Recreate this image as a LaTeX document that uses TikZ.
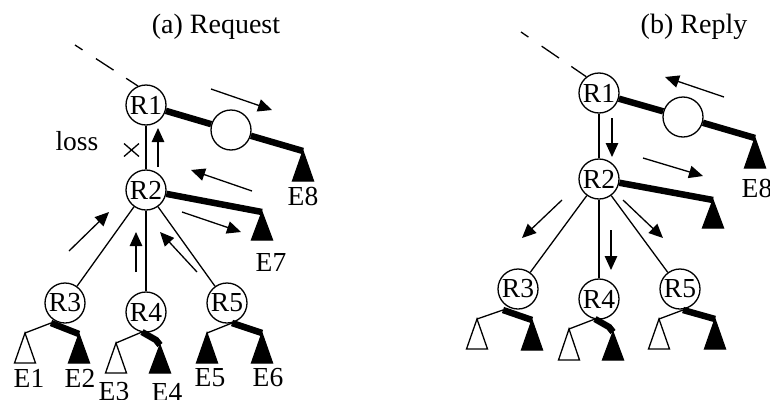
\documentclass[tikz,border=0pt]{standalone}
\usepackage{fontspec}
\setmainfont{Liberation Serif}
\usetikzlibrary{arrows.meta,calc}
\newcommand\leafshape[3][30]{\draw[line width=1.3pt,fill=#3,line join=miter] (#2) -- ++(-10.5,#1) -- ++(21,0) -- cycle;}
\begin{document}
\begin{tikzpicture}[x=1pt,y=-1pt,
  rnode/.style={draw,circle,line width=1.3pt,minimum size=40pt,inner sep=0pt,font=\fontsize{27.5}{27.5}\selectfont},
  emptynode/.style={draw,circle,line width=1.3pt,minimum size=40pt,inner sep=0pt},
  thinln/.style={line width=1.3pt},
  thickln/.style={line width=6.5pt,line join=miter},
  flow/.style={line width=1.3pt,-{Triangle[length=14pt,width=12.5pt]}},
  lbl/.style={font=\fontsize{27.5}{27.5}\selectfont,inner sep=0pt},
  ttl/.style={font=\fontsize{28}{28}\selectfont,inner sep=0pt,anchor=base},
  dashedline/.style={line width=1.3pt,dash pattern=on 9pt off 16pt on 21pt off 15pt on 30pt},
]
\useasboundingbox (0,0) rectangle (770,399);

% ---------------- (a) Request ----------------
\node[ttl] (ta) at (216,33) {(a) Request};
\node[rnode] (a1) at (146,105) {R1};
\node[emptynode] (ac) at (231,130) {};
\coordinate (ad) at (75,45);
\draw[dashedline] (ad) -- (a1.113);
\coordinate (a8) at (303,151);
\draw[thickln] (a1) -- (ac);
\draw[thickln] (ac) -- (a8);
\leafshape{a8}{black}
\node[lbl] (aE8) at (303,196) {E8};
\coordinate (af1s) at (211,89); \coordinate (af1e) at (272,110);
\draw[flow] (af1s) -- (af1e);
\node[lbl] (loss) at (77,141) {loss};
\coordinate (ax) at (131.5,150);
\draw[thinln] ($(ax)+(-7.5,-6.5)$) -- ($(ax)+(7.5,6.5)$);
\draw[thinln] ($(ax)+(-7.5,6.5)$) -- ($(ax)+(7.5,-6.5)$);

\node[rnode] (a2) at (146,190) {R2};
\draw[thinln] (a1) -- (a2);
\coordinate (af2s) at (158,167); \coordinate (af2e) at (158,128);
\draw[flow] (af2s) -- (af2e);
\coordinate (af3s) at (252,191); \coordinate (af3e) at (191,170);
\draw[flow] (af3s) -- (af3e);
\coordinate (a7) at (262,212);
\draw[thickln] (a2) -- (a7);
\leafshape[28]{a7}{black}
\node[lbl] (aE7) at (271,262) {E7};
\coordinate (af4s) at (182,212); \coordinate (af4e) at (241,232);
\draw[flow] (af4s) -- (af4e);

\node[rnode] (a3) at (65,303) {R3};
\node[rnode] (a4) at (146,312) {R4};
\node[rnode] (a5) at (227,303) {R5};
\draw[thinln] (a2) -- (a3);
\draw[thinln] (a2) -- (a4);
\draw[thinln] (a2) -- (a5);
\coordinate (af5s) at (69,251); \coordinate (af5e) at (109,212);
\draw[flow] (af5s) -- (af5e);
\coordinate (af6s) at (136,272); \coordinate (af6e) at (136,232);
\draw[flow] (af6s) -- (af6e);
\coordinate (af7s) at (197,272); \coordinate (af7e) at (160,232);
\draw[flow] (af7s) -- (af7e);

% subtree R3
\coordinate (a3f) at ($(a3)+(-14,20)$);
\coordinate (a3l) at ($(a3)+(-40,30)$);
\coordinate (a3r) at ($(a3)+(14,31)$);
\draw[thinln] (a3f) -- (a3l);
\draw[thickln] (a3f) -- (a3r);
\leafshape{a3l}{white}
\leafshape[29]{a3r}{black}
% subtree R4
\coordinate (a4f) at ($(a4)+(-4,20)$);
\coordinate (a4l) at ($(a4)+(-30,31)$);
\coordinate (a4m) at ($(a4)+(10,28)$);
\coordinate (a4r) at ($(a4)+(14,33)$);
\draw[thinln] (a4f) -- (a4l);
\draw[thickln] (a4f) -- (a4m) -- (a4r);
\leafshape{a4l}{white}
\leafshape[28]{a4r}{black}
% subtree R5
\coordinate (a5f) at ($(a5)+(5,20)$);
\coordinate (a5l) at ($(a5)+(-20,30)$);
\coordinate (a5r) at ($(a5)+(35,30)$);
\draw[thinln] (a5f) -- (a5l);
\draw[thickln] (a5f) -- (a5r);
\leafshape{a5l}{black}
\leafshape{a5r}{black}

\node[lbl] (aE1) at (29,378) {E1};
\node[lbl] (aE2) at (80,378) {E2};
\node[lbl] (aE3) at (114,392) {E3};
\node[lbl] (aE4) at (167,392) {E4};
\node[lbl] (aE5) at (210,378) {E5};
\node[lbl] (aE6) at (268,378) {E6};

% ---------------- (b) Reply ----------------
\node[ttl] (tb) at (694,33) {(b) Reply};
\node[rnode] (b1) at (599,93) {R1};
\node[emptynode] (bc) at (683,117) {};
\coordinate (bd) at (521,32);
\draw[dashedline] (bd) -- (b1.128);
\coordinate (b8) at (755,138);
\draw[thickln] (b1) -- (bc);
\draw[thickln] (bc) -- (b8);
\leafshape{b8}{black}
\node[lbl] (bE8) at (757,188) {E8};
\coordinate (bf1s) at (724,97); \coordinate (bf1e) at (665,77);
\draw[flow] (bf1s) -- (bf1e);

\node[rnode] (b2) at (599,179) {R2};
\draw[thinln] (b1) -- (b2);
\coordinate (bf2s) at (612,118); \coordinate (bf2e) at (612,157);
\draw[flow] (bf2s) -- (bf2e);
\coordinate (bf3s) at (643,158); \coordinate (bf3e) at (703,176);
\draw[flow] (bf3s) -- (bf3e);
\coordinate (b7) at (713,200);
\draw[thickln] (b2) -- (b7);
\leafshape[28]{b7}{black}

\node[rnode] (b3) at (518,289) {R3};
\node[rnode] (b4) at (599,299) {R4};
\node[rnode] (b5) at (680,289) {R5};
\draw[thinln] (b2) -- (b3);
\draw[thinln] (b2) -- (b4);
\draw[thinln] (b2) -- (b5);
\coordinate (bf5s) at (562,200); \coordinate (bf5e) at (522,238);
\draw[flow] (bf5s) -- (bf5e);
\coordinate (bf6s) at (611,230); \coordinate (bf6e) at (611,270);
\draw[flow] (bf6s) -- (bf6e);
\coordinate (bf7s) at (623,200); \coordinate (bf7e) at (663,238);
\draw[flow] (bf7s) -- (bf7e);

% subtree R3
\coordinate (b3f) at ($(b3)+(-15,21)$);
\coordinate (b3l) at ($(b3)+(-41,30)$);
\coordinate (b3r) at ($(b3)+(14,31)$);
\draw[thinln] (b3f) -- (b3l);
\draw[thickln] (b3f) -- (b3r);
\leafshape{b3l}{white}
\leafshape[30]{b3r}{black}
% subtree R4
\coordinate (b4f) at ($(b4)+(-4,20)$);
\coordinate (b4l) at ($(b4)+(-30,30)$);
\coordinate (b4m) at ($(b4)+(10,28)$);
\coordinate (b4r) at ($(b4)+(14,33)$);
\draw[thinln] (b4f) -- (b4l);
\draw[thickln] (b4f) -- (b4m) -- (b4r);
\leafshape[31]{b4l}{white}
\leafshape[28]{b4r}{black}
% subtree R5
\coordinate (b5f) at ($(b5)+(3,21)$);
\coordinate (b5l) at ($(b5)+(-21,30)$);
\coordinate (b5r) at ($(b5)+(35,30)$);
\draw[thinln] (b5f) -- (b5l);
\draw[thickln] (b5f) -- (b5r);
\leafshape{b5l}{white}
\leafshape{b5r}{black}
\end{tikzpicture}
\end{document}
